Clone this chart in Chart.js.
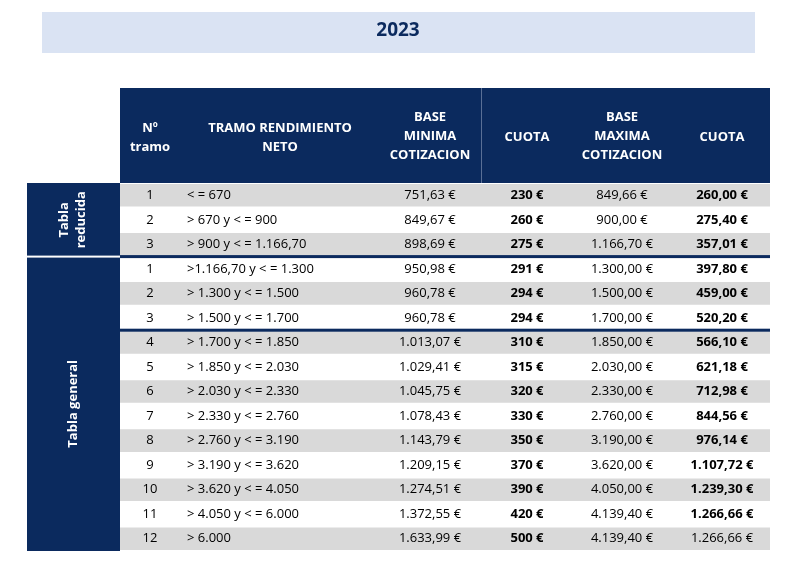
<!DOCTYPE html>
<html>
<head>
<meta charset="utf-8">
<script src="https://cdn.jsdelivr.net/npm/chart.js@4"></script>
<style>
  body { margin: 0; background: #fff; }
  #wrap { width: 785px; height: 573px; }
</style>
</head>
<body>
<div id="wrap"><canvas id="chart" width="785" height="573"></canvas></div>
<script>
const title = "2023";
const headers = ["Nº\ntramo", "TRAMO RENDIMIENTO\nNETO", "BASE\nMINIMA\nCOTIZACION", "CUOTA", "BASE\nMAXIMA\nCOTIZACION", "CUOTA"];
const tramoNo = ["1", "2", "3", "1", "2", "3", "4", "5", "6", "7", "8", "9", "10", "11", "12"];
const tramoText = ["< = 670", "> 670 y < = 900", "> 900 y < = 1.166,70", ">1.166,70 y < = 1.300", "> 1.300 y < = 1.500", "> 1.500 y < = 1.700", "> 1.700 y < = 1.850", "> 1.850 y < = 2.030", "> 2.030 y < = 2.330", "> 2.330 y < = 2.760", "> 2.760 y < = 3.190", "> 3.190 y < = 3.620", "> 3.620 y < = 4.050", "> 4.050 y < = 6.000", "> 6.000"];
const baseMin = ["751,63 €", "849,67 €", "898,69 €", "950,98 €", "960,78 €", "960,78 €", "1.013,07 €", "1.029,41 €", "1.045,75 €", "1.078,43 €", "1.143,79 €", "1.209,15 €", "1.274,51 €", "1.372,55 €", "1.633,99 €"];
const cuotaMin = ["230 €", "260 €", "275 €", "291 €", "294 €", "294 €", "310 €", "315 €", "320 €", "330 €", "350 €", "370 €", "390 €", "420 €", "500 €"];
const baseMax = ["849,66 €", "900,00 €", "1.166,70 €", "1.300,00 €", "1.500,00 €", "1.700,00 €", "1.850,00 €", "2.030,00 €", "2.330,00 €", "2.760,00 €", "3.190,00 €", "3.620,00 €", "4.050,00 €", "4.139,40 €", "4.139,40 €"];
const cuotaMax = ["260,00 €", "275,40 €", "357,01 €", "397,80 €", "459,00 €", "520,20 €", "566,10 €", "621,18 €", "712,98 €", "844,56 €", "976,14 €", "1.107,72 €", "1.239,30 €", "1.266,66 €", "1.266,66 €"];
const groups = [{ label: "Tabla\nreducida", from: 0, to: 2 }, { label: "Tabla general", from: 3, to: 14 }];

const navy = "#0b2a5e";
const rowLabels = tramoNo.map((n, i) => "r" + i);

const tablePlugin = {
  id: "table",
  afterDraw(c) {
    const ctx = c.ctx, x = c.scales.x, y = c.scales.y, a = c.chartArea;
    const rowH = (a.bottom - a.top) / rowLabels.length;
    const colX = [30, 67, 310, 407, 502, 602].map(v => x.getPixelForValue(v));
    ctx.save();
    // title box
    ctx.fillStyle = "#dae3f3";
    ctx.fillRect(42, 12, 713, 41);
    ctx.fillStyle = navy;
    ctx.font = "bold 19px 'Open Sans', sans-serif";
    ctx.textAlign = "center"; ctx.textBaseline = "middle";
    ctx.fillText(title, 398, 31);
    // header
    ctx.fillStyle = navy;
    ctx.fillRect(a.left, 88, a.right - a.left, a.top - 88);
    ctx.strokeStyle = "#5a6f96"; ctx.lineWidth = 1;
    ctx.beginPath(); ctx.moveTo(481.5, 88); ctx.lineTo(481.5, a.top); ctx.stroke();
    ctx.fillStyle = "#fff";
    ctx.font = "bold 13px 'Open Sans', sans-serif";
    headers.forEach((h, i) => {
      const lines = h.split("\n");
      const cx = i === 1 ? x.getPixelForValue(160) : colX[i];
      const base = i === 1 ? 128 : (lines.length === 3 ? 117 : lines.length === 2 ? 128 : 137);
      lines.forEach((l, j) => ctx.fillText(l, cx, base + j * 19));
    });
    // left group labels
    ctx.fillStyle = navy;
    ctx.fillRect(27, a.top, a.left - 27, a.bottom - a.top);
    groups.forEach((g, gi) => {
      const top = y.getPixelForValue(g.from) - rowH / 2;
      const bot = y.getPixelForValue(g.to) + rowH / 2;
      if (gi > 0) { ctx.fillStyle = "#fff"; ctx.fillRect(27, top - 1, a.left - 27, 2); }
      ctx.save();
      ctx.translate(73, (top + bot) / 2);
      ctx.rotate(-Math.PI / 2);
      ctx.fillStyle = "#fff";
      ctx.font = "bold 13px 'Open Sans', sans-serif";
      const lines = g.label.split("\n");
      lines.forEach((l, j) => ctx.fillText(l, 0, (j - (lines.length - 1) / 2) * 17));
      ctx.restore();
    });
    // cells
    ctx.fillStyle = "#000";
    rowLabels.forEach((r, i) => {
      const cy = y.getPixelForValue(i);
      ctx.font = "13px 'Open Sans', sans-serif";
      ctx.textAlign = "center";
      ctx.fillText(tramoNo[i], colX[0], cy);
      ctx.textAlign = "left";
      ctx.fillText(tramoText[i], colX[1], cy);
      ctx.textAlign = "center";
      ctx.fillText(baseMin[i], colX[2], cy);
      ctx.fillText(baseMax[i], colX[4], cy);
      ctx.font = "bold 13px 'Open Sans', sans-serif";
      ctx.fillText(cuotaMin[i], colX[3], cy);
      ctx.font = (i < 14 ? "bold " : "") + "13px 'Open Sans', sans-serif";
      ctx.fillText(cuotaMax[i], colX[5], cy);
    });
    // thick separators
    ctx.fillStyle = navy;
    [3, 6].forEach(i => {
      const yy = y.getPixelForValue(i) - rowH / 2;
      ctx.fillRect(a.left, yy - 1.5, a.right - a.left, 3);
    });
    ctx.restore();
  }
};

new Chart(document.getElementById("chart"), {
  type: "bar",
  data: {
    labels: rowLabels,
    datasets: [{
      data: rowLabels.map(() => 650),
      backgroundColor: rowLabels.map((r, i) => (i % 2 === 0 ? "#d9d9d9" : "#ffffff")),
      barPercentage: 1,
      categoryPercentage: 0.92
    }]
  },
  options: {
    indexAxis: "y",
    responsive: false,
    animation: false,
    layout: { padding: { left: 120, right: 15, top: 183, bottom: 22 } },
    plugins: { legend: { display: false }, tooltip: { enabled: false } },
    scales: {
      x: { type: "linear", min: 0, max: 650, display: false },
      y: { display: false }
    }
  },
  plugins: [tablePlugin]
});
</script>
</body>
</html>
